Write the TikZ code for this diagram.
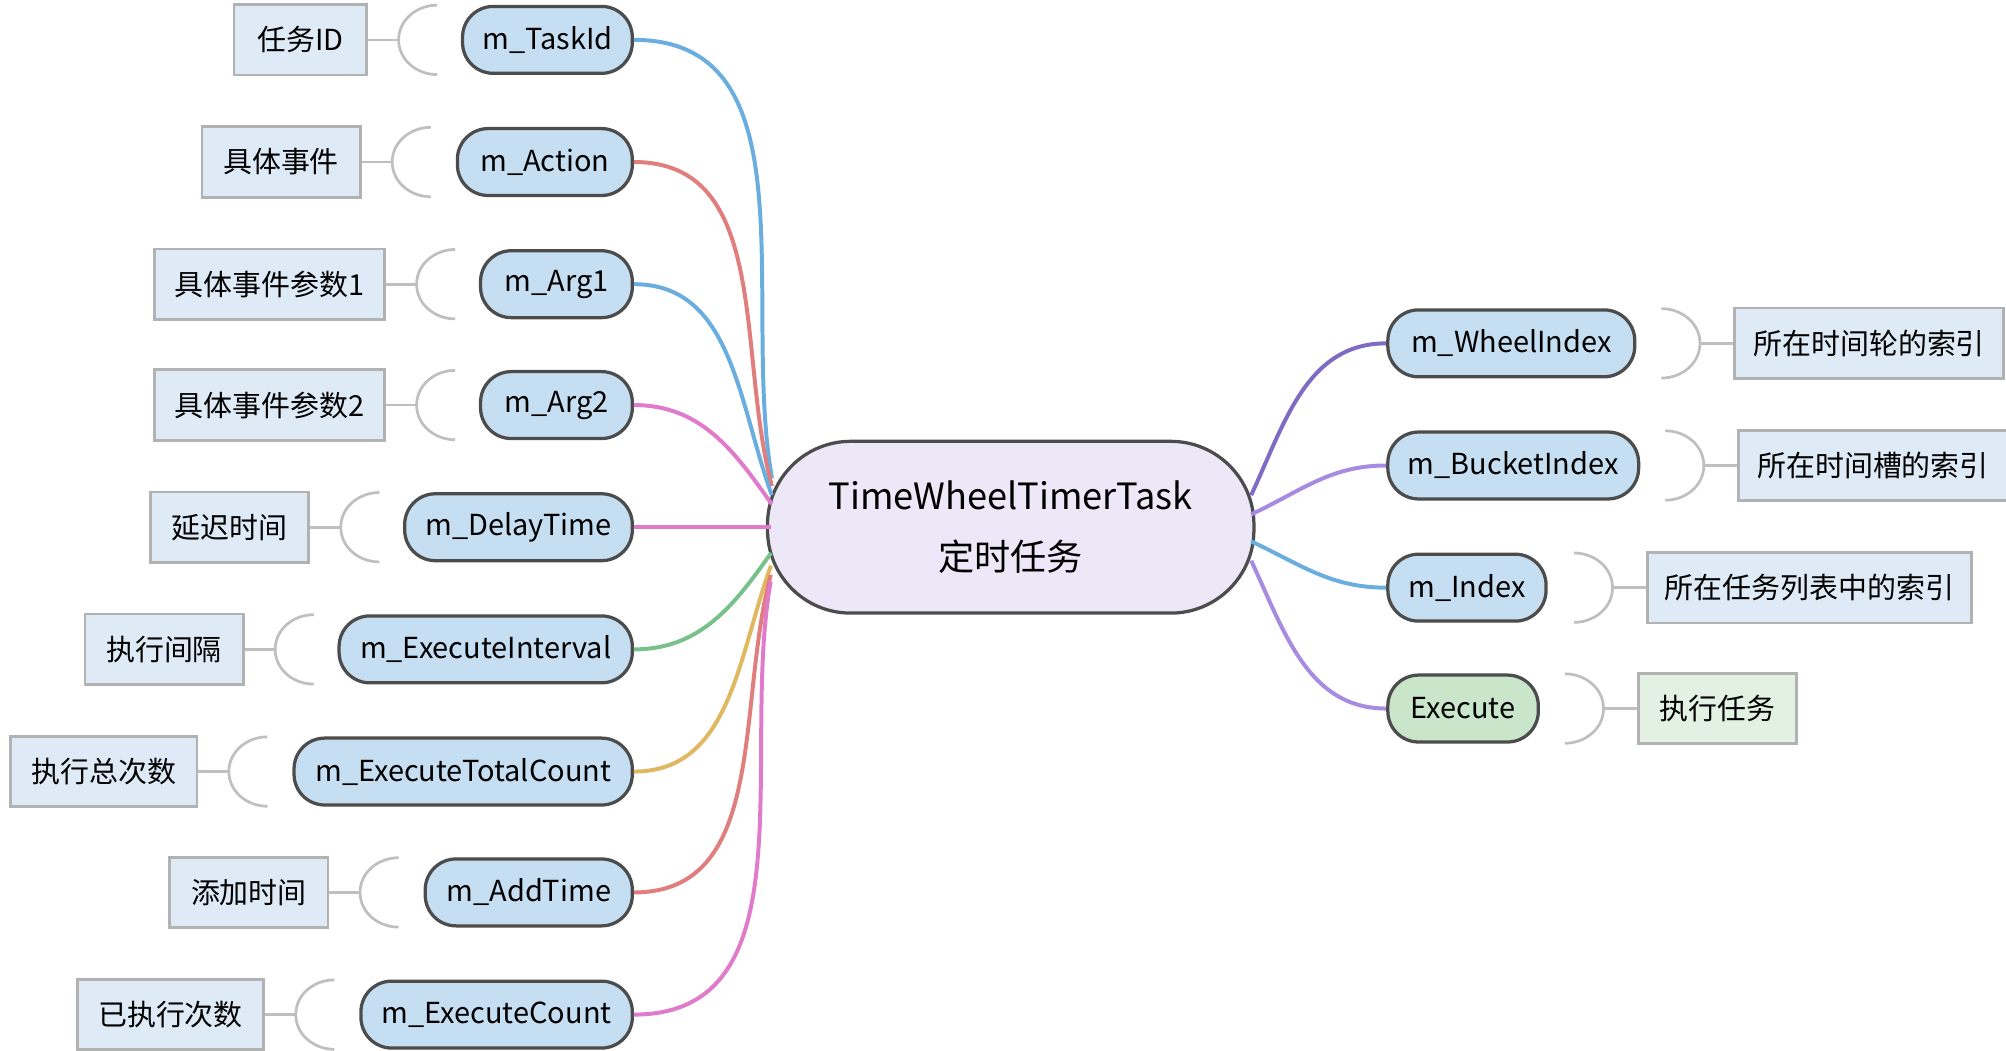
\documentclass[tikz,border=0pt]{standalone}
\usepackage{fontspec}
\setmainfont{Noto Sans CJK SC}
\usepackage{xcolor}
\definecolor{nodefill}{HTML}{C5DEF2}
\definecolor{labfill}{HTML}{DEEBF7}
\definecolor{gfill}{HTML}{C9E6CB}
\definecolor{glab}{HTML}{E3F1E2}
\definecolor{cfill}{HTML}{ECE8F8}
\definecolor{cblue}{HTML}{6AAEE0}
\definecolor{cred}{HTML}{E07E7E}
\definecolor{cpink}{HTML}{E07BCB}
\definecolor{cgreen}{HTML}{78C18B}
\definecolor{cyellow}{HTML}{E0B862}
\definecolor{cpurple}{HTML}{7E6BC4}
\definecolor{clilac}{HTML}{A68BE0}

\begin{document}
\begin{tikzpicture}[x=0.025cm, y=0.025cm,
    item/.style={draw=black!70, line width=1.8pt, fill=nodefill, rounded corners=17pt,
        minimum height=37pt, inner sep=0pt, font=\fontsize{16}{18}\selectfont},
    note/.style={draw=black!30, line width=1.5pt, fill=labfill, minimum height=39pt,
        inner sep=0pt, font=\fontsize{16}{18}\selectfont},
    brace/.style={draw=black!25, line width=1.5pt},
    link/.style={line width=2.2pt}]
        % Frame of the picture
        \useasboundingbox (0,0) rectangle (1560,-817);

        % Central topic
        \node[draw=black!70, line width=1.8pt, fill=cfill, rounded corners=46pt,
              minimum width=269pt, minimum height=95pt, align=center,
              font=\fontsize{20}{34}\selectfont] (task) at (786,-410)
              {TimeWheelTimerTask\\定时任务};

        % Left branches: text/y/left/label left/label right/label/colour/end/in
        \foreach[count=\i] \txt/\y/\l/\ll/\lr/\lab/\col/\ey/\ang in {
            m\_TaskId/31/361/181/284/任务ID/cblue/372/100,
            m\_Action/126/357/156/279/具体事件/cred/378/105,
            m\_Arg1/221/375/119/298/具体事件参数1/cblue/385/110,
            m\_Arg2/315/375/119/298/具体事件参数2/cpink/392/125,
            m\_DelayTime/410/316/116/239/延迟时间/cpink/410/180,
            m\_ExecuteInterval/505/265/65/188/执行间隔/cgreen/430/-125,
            m\_ExecuteTotalCount/600/230/7/152/执行总次数/cyellow/440/-110,
            m\_AddTime/694/332/131/254/添加时间/cred/447/-105,
            m\_ExecuteCount/789/282/59/204/已执行次数/cpink/452/-100}{
            \node[item, anchor=east, minimum width={(493-\l)*0.7113pt}] (n\i) at (493,-\y) {\txt};
            \node[note, anchor=west, minimum width={(\lr-\ll)*0.7113pt}] (l\i) at (\ll,-\y) {\lab};
            \coordinate (b\i) at (\lr+26,-\y);
            \draw[brace] (l\i.east) -- (b\i);
            \draw[brace] (\lr+56,-\y+27) to[out=180,in=90] (b\i) to[out=-90,in=180] (\lr+56,-\y-27);
            \coordinate (e\i) at (605-\ey/80,-\ey);
            \draw[link, \col] (n\i.east) to[out=0, in=\ang] (e\i);
        }

        % Right branches
        \foreach[count=\i] \txt/\y/\r/\ll/\lr/\lab/\col/\ey/\ang/\fc/\lc in {
            m\_WheelIndex/267/1270/1348/1557/所在时间轮的索引/cpurple/385/65/nodefill/labfill,
            m\_BucketIndex/362/1273/1351/1560/所在时间槽的索引/clilac/400/25/nodefill/labfill,
            m\_Index/457/1201/1280/1532/所在任务列表中的索引/cblue/421/-25/nodefill/labfill,
            Execute/551/1195/1273/1396/执行任务/clilac/436/-65/gfill/glab}{
            \node[item, fill=\fc, anchor=west, minimum width={(\r-1078)*0.7113pt}] (m\i) at (1078,-\y) {\txt};
            \node[note, fill=\lc, anchor=west, minimum width={(\lr-\ll)*0.7113pt}] (r\i) at (\ll,-\y) {\lab};
            \coordinate (c\i) at (\ll-26,-\y);
            \draw[brace] (r\i.west) -- (c\i);
            \draw[brace] (\ll-56,-\y+27) to[out=0,in=90] (c\i) to[out=-90,in=0] (\ll-56,-\y-27);
            \coordinate (f\i) at (973,-\ey);
            \draw[link, \col] (f\i) to[out=\ang, in=180] (m\i.west);
        }
\end{tikzpicture}
\end{document}
